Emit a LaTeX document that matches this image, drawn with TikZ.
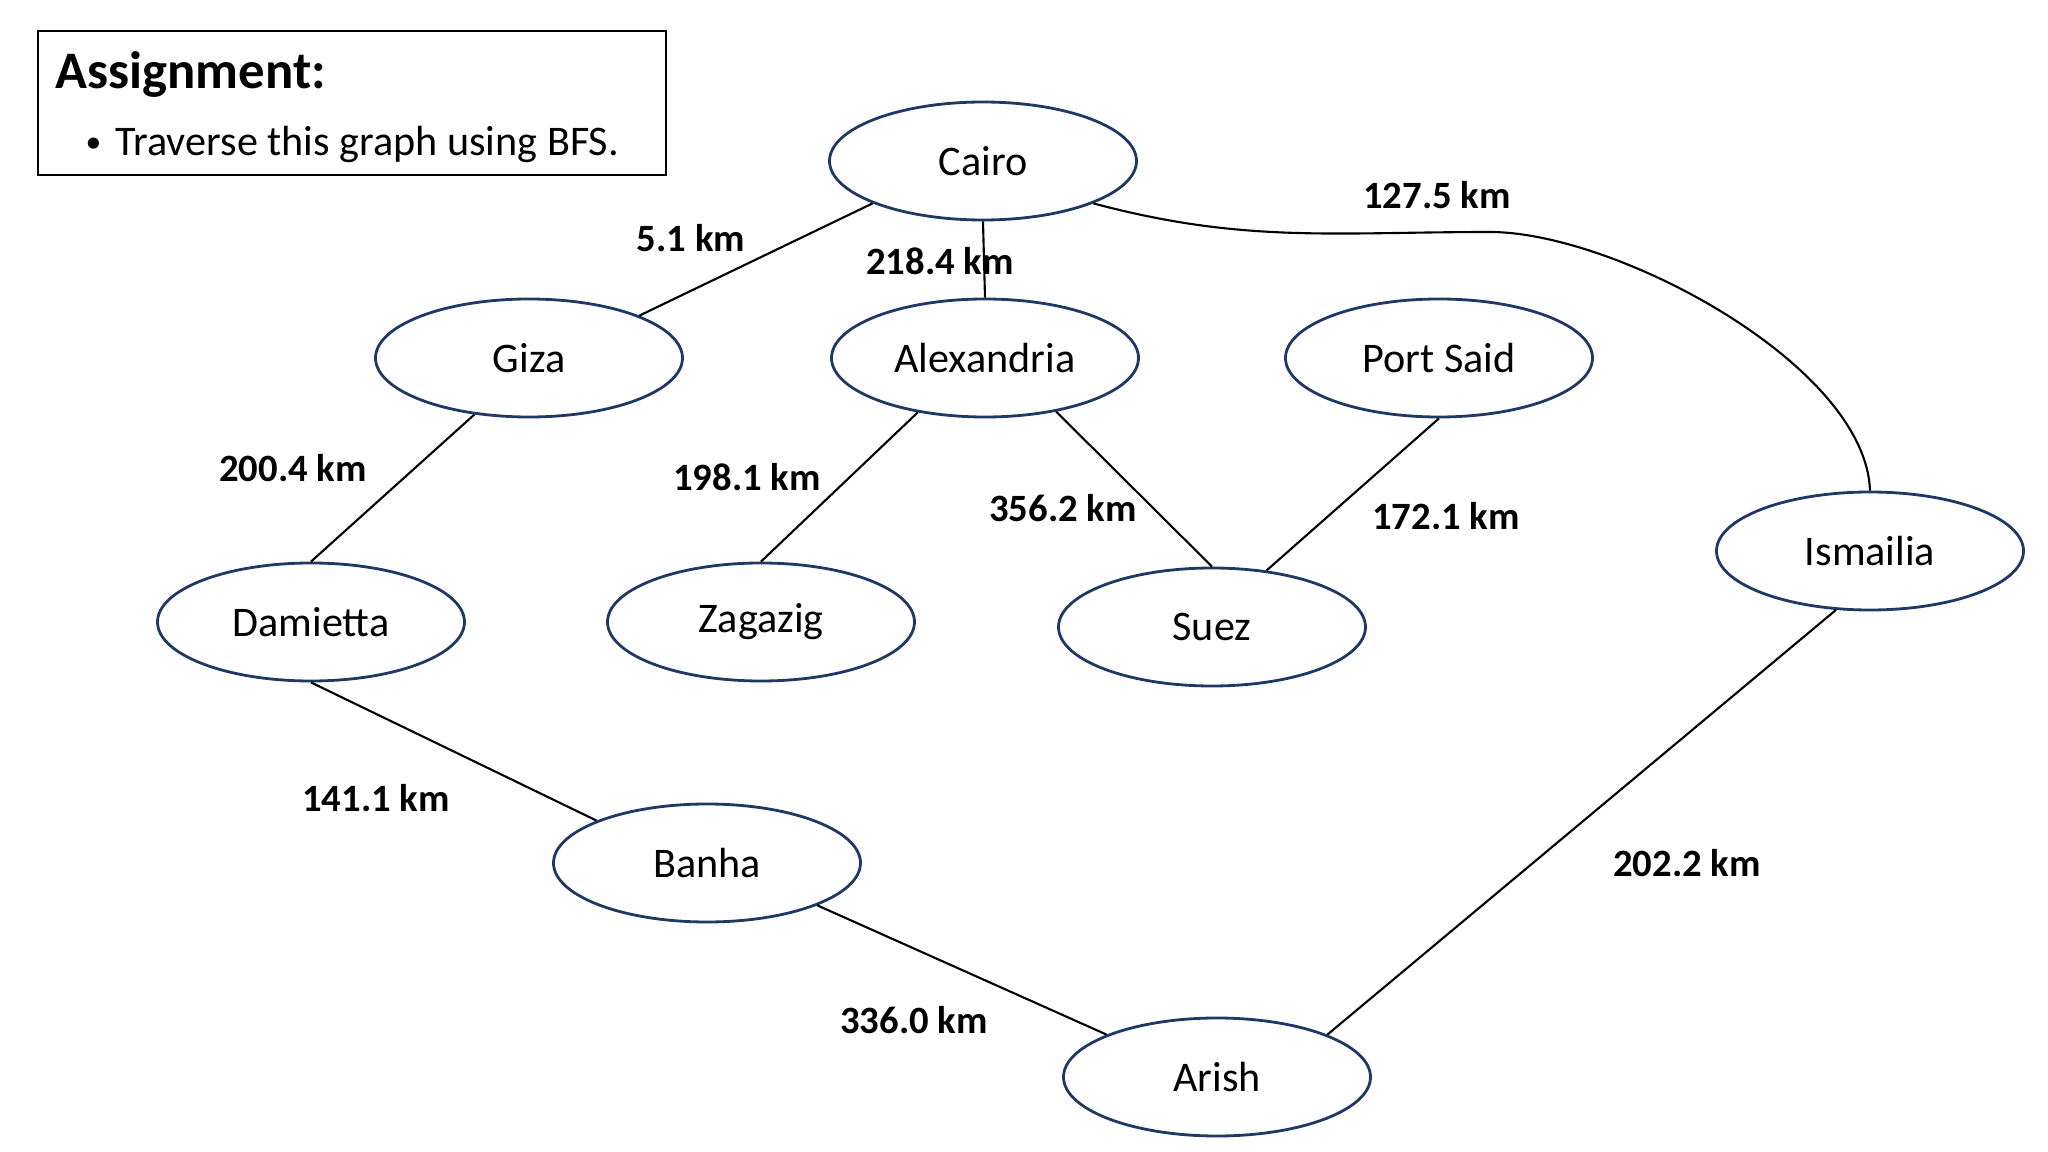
\documentclass[tikz,border=0pt]{standalone}
\usepackage{fontspec}
\setmainfont{Carlito}
\usepackage{tikz}
\usetikzlibrary{positioning}
\usetikzlibrary{shapes}
\definecolor{citynavy}{HTML}{203864}
\tikzset{
  city_node/.style={ellipse, draw = citynavy, line width = 0.8pt, minimum width = 3.07cm, minimum height = 1.18cm, inner sep = 0, font = \fontsize{12}{14}\selectfont},
  edge_line/.style={draw, line width = 0.6pt, color = black},
  dist_label/.style={draw = none, font = \fontsize{11}{13}\selectfont\bfseries},
  task_box/.style={rectangle, draw, line width = 0.7pt, minimum width = 6.28cm, minimum height = 1.44cm, inner sep = 0}}

\begin{document}
\begin{tikzpicture}
\useasboundingbox (0,0) rectangle (20.48,-11.52);

%% assignment box
\node[task_box] at (3.52,-1.03) (task) {};
\node[draw = none, anchor = base west, inner sep = 0, font = \fontsize{15}{17}\selectfont\bfseries] at (0.55,-0.89) (title) {Assignment:};
\node[draw = none, anchor = base west, inner sep = 0, font = \fontsize{9}{11}\selectfont] at (0.85,-1.53) (dot) {•};
\node[draw = none, anchor = base west, inner sep = 0, font = \fontsize{12}{14}\selectfont] at (1.15,-1.56) (task_text) {Traverse this graph using BFS.};

%% cities
\node[city_node] at (9.83,-1.61)  (cairo) {Cairo};
\node[city_node] at (5.29,-3.58)  (giza) {Giza};
\node[city_node] at (9.85,-3.58)  (alex) {Alexandria};
\node[city_node] at (14.39,-3.58) (psaid) {Port Said};
\node[city_node] at (18.70,-5.51) (ismailia) {Ismailia};
\node[city_node] at (3.11,-6.22)  (damietta) {Damietta};
\node[city_node] at (7.61,-6.22)  (zagazig) {Zagazig};
\node[city_node] at (12.12,-6.27) (suez) {Suez};
\node[city_node] at (7.07,-8.63)  (banha) {Banha};
\node[city_node] at (12.17,-10.77) (arish) {Arish};

\coordinate (bend) at (14.90,-2.32);

%% edges
\draw[edge_line] (cairo.201) -- (giza.21);
\draw[edge_line] (cairo.south) -- (alex.north);
\draw[edge_line] (cairo.339) to[out = -15, in = 180] (bend) to[out = 0, in = 92, looseness = 0.7] (ismailia.north);

\draw[edge_line] (giza.226) -- (damietta.north);
\draw[edge_line] (alex.219) -- (zagazig.north);
\draw[edge_line] (alex.323) -- (suez.north);
\draw[edge_line] (psaid.south) -- (suez.46);

\draw[edge_line] (damietta.south) -- (banha.159);
\draw[edge_line] (banha.339) -- (arish.159);
\draw[edge_line] (arish.21) -- (ismailia.240);

%% distances
\node[dist_label] at (6.91,-2.38)  (d_cg) {5.1 km};
\node[dist_label] at (9.40,-2.61)  (d_ca) {218.4 km};
\node[dist_label] at (14.37,-1.95) (d_ci) {127.5 km};
\node[dist_label] at (2.93,-4.68)  (d_gd) {200.4 km};
\node[dist_label] at (7.47,-4.77)  (d_az) {198.1 km};
\node[dist_label] at (10.63,-5.08) (d_as) {356.2 km};
\node[dist_label] at (14.46,-5.16) (d_ps) {172.1 km};
\node[dist_label] at (3.76,-7.98)  (d_db) {141.1 km};
\node[dist_label] at (16.87,-8.63) (d_ai) {202.2 km};
\node[dist_label] at (9.14,-10.20) (d_ba) {336.0 km};

\end{tikzpicture}
\end{document}
